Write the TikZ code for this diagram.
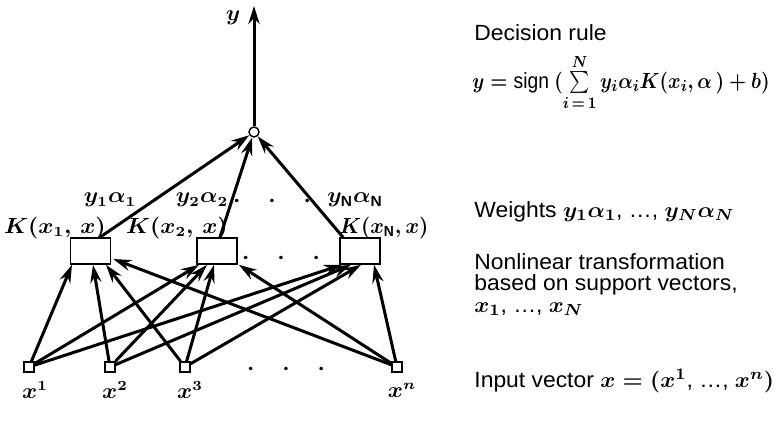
\documentclass[tikz,border=0pt]{standalone}
\usepackage{amsmath}
\usepackage{fontspec}
\setsansfont{Liberation Sans}
\usetikzlibrary{arrows.meta}

\begin{document}
\begin{tikzpicture}[x=0.5pt,y=-0.5pt,
  wire/.style={line width=1.5pt,-{Stealth[length=9pt,width=5.6pt,inset=3pt]}},
  kbox/.style={draw,line width=0.8pt,fill=white,minimum width=20pt,minimum height=13pt,inner sep=0pt},
  inp/.style={draw,line width=0.7pt,fill=white,minimum size=5pt,inner sep=0pt},
  lab/.style={inner sep=0pt,xscale=1.05,font=\fontsize{10.5}{12}\selectfont\boldmath},
  note/.style={anchor=base west,inner sep=0pt,xscale=1.04,align=left,
    font=\sffamily\fontsize{11}{10.6}\selectfont\boldmath}]
  \useasboundingbox (0,0) rectangle (776,428);
  \node[circle,draw,line width=0.7pt,fill=white,minimum size=5pt,inner sep=0pt] (sum) at (254,132) {};
  \coordinate (out) at (254,6);
  \node[kbox] (k1) at (90.5,251) {};
  \node[kbox] (k2) at (217,251) {};
  \node[kbox] (kN) at (360,251) {};
  \node[inp] (x1) at (29,367) {};
  \node[inp] (x2) at (110,367) {};
  \node[inp] (x3) at (185,367) {};
  \node[inp] (xn) at (397,367) {};

  \draw[wire] (sum) -- (out);
  \draw[wire] ([xshift=4.75pt]k1.north) -- (sum);
  \draw[wire] ([xshift=1.5pt]k2.north) -- (sum);
  \draw[wire] ([xshift=-8.5pt]kN.north) -- (sum);

  \draw[wire] (x1) -- ([xshift=-9.25pt]k1.south);
  \draw[wire] (x2) -- ([xshift=1.25pt]k1.south);
  \draw[wire] (x3) -- ([xshift=7.75pt]k1.south);
  \draw[wire] (xn) -- ([xshift=1pt,yshift=-4pt]k1.east);
  \draw[wire] (x1) -- ([xshift=-9pt]k2.south);
  \draw[wire] (x2) -- ([xshift=-5pt]k2.south);
  \draw[wire] (x3) -- ([xshift=-1.5pt]k2.south);
  \draw[wire] (xn) -- ([xshift=0.5pt]k2.south east);
  \draw[wire] (x1) -- ([xshift=-9pt]kN.south);
  \draw[wire] (x2) -- ([xshift=-4.5pt]kN.south);
  \draw[wire] (x3) -- ([xshift=0.5pt]kN.south);
  \draw[wire] (xn) -- ([xshift=7pt]kN.south);

  \node[lab] (ylab) at (233,18) {$y$};
  \node[lab] (w1) at (110,200) {$y_1\alpha_1$};
  \node[lab] (w2) at (202,200) {$y_2\alpha_2$};
  \node[lab] (wdots) at (272,201) {$\cdot\quad\cdot\quad\cdot$};
  \node[lab] (wN) at (355,200) {$y_{\mathsf{N}}\alpha_{\mathsf{N}}$};
  \node[lab] (k1lab) at (55,228) {$K(x_1,\,x)$};
  \node[lab] (k2lab) at (177,228) {$K(x_2,\,x)$};
  \node[lab,xscale=0.9] (kNlab) at (384,228) {$K(x_{\mathsf{N}},x)$};
  \node[lab] (kdots) at (281,258) {$\cdot\quad\cdot\quad\cdot$};
  \node[lab] (xdots) at (286,369) {$\cdot\quad\cdot\quad\cdot$};
  \node[lab] (x1lab) at (35,390) {$x^1$};
  \node[lab] (x2lab) at (115,390) {$x^2$};
  \node[lab] (x3lab) at (190,390) {$x^3$};
  \node[lab] (xnlab) at (402,390) {$x^n$};

  \node[note] (rule) at (474,40) {Decision rule};
  \node[note,xscale=0.84] (formula) at (472,88) {$y = \textsf{sign}\ (\sum\limits_{i\,=\,1}^{N} y_i\alpha_i K(x_i,\alpha\,) + b)$};
  \node[note] (weights) at (474,217) {Weights $y_1\alpha_1$, \ldots, $y_N\alpha_N$};
  \node[note] (nonlin) at (474,312) {Nonlinear transformation\\based on support vectors,\\$x_1$, \ldots, $x_N$};
  \node[note] (input) at (474,387) {Input vector $x = (x^1$, \ldots, $x^n)$};
\end{tikzpicture}
\end{document}
